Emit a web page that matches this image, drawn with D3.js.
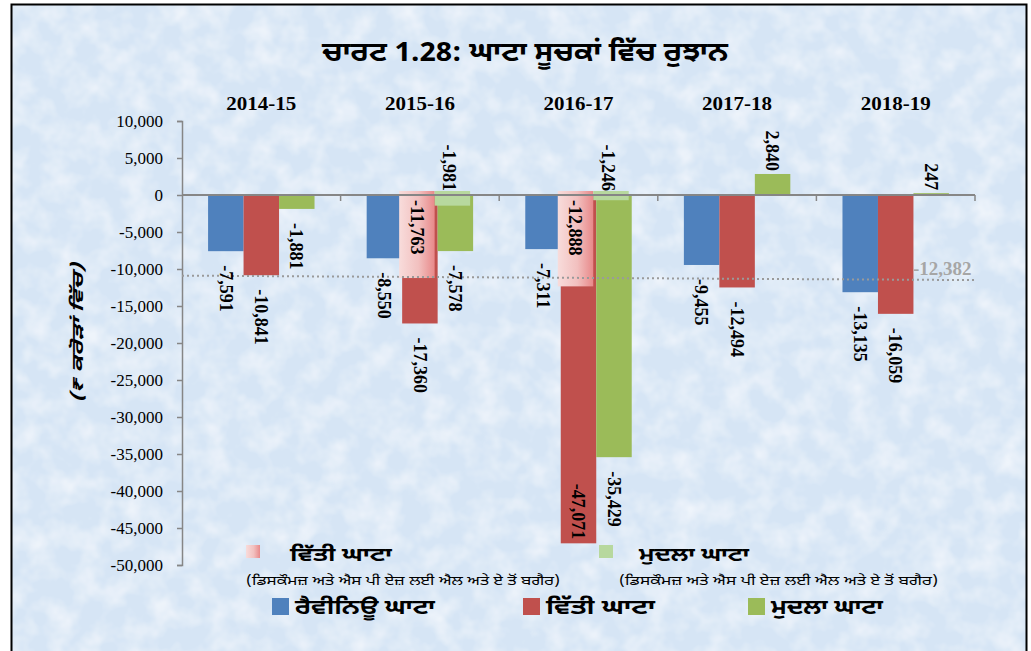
<!DOCTYPE html>
<html>
<head>
<meta charset="utf-8">
<script src="https://cdnjs.cloudflare.com/ajax/libs/d3/7.8.5/d3.min.js"></script>
<style>
  body { margin: 0; background: #fff; }
  .gur { font-family: "Noto Sans Gurmukhi", "Lohit Gurmukhi", "Raavi", sans-serif; }
  .num { font-family: "Liberation Serif", "Times New Roman", serif; }
</style>
</head>
<body>
<div id="container"></div>
<script>
var width = 1031,
    height = 651;

// data
var years = ["2014-15", "2015-16", "2016-17", "2017-18", "2018-19"];
var revenueDeficit = [-7591, -8550, -7311, -9455, -13135];
var fiscalDeficit = [-10841, -17360, -47071, -12494, -16059];
var primaryDeficit = [-1881, -7578, -35429, 2840, 247];
// without discoms & SPV L&A (only two years shown)
var fiscalExcl = [null, -11763, -12888, null, null];
var primaryExcl = [null, -1981, -1246, null, null];
var trendEnds = [-10900, -11500];
var trendLabel = "-12,382";
var yTicks = [10000, 5000, 0, -5000, -10000, -15000, -20000, -25000, -30000, -35000, -40000, -45000, -50000];

var colors = { rev: "#4f81bd", fis: "#c0504d", pri: "#9bbb59", priExcl: "#b7d89e" };

var locale = d3.formatLocale({ decimal: ".", thousands: ",", grouping: [3], currency: ["", ""], minus: "-" });
var fmt = locale.format(",");

var svg = d3.select("#container")
    .append("svg")
    .attr("width", width)
    .attr("height", height);

var defs = svg.append("defs");

// mottled background
var filt = defs.append("filter").attr("id", "paper")
    .attr("x", 0).attr("y", 0).attr("width", "100%").attr("height", "100%");
filt.append("feTurbulence").attr("type", "fractalNoise")
    .attr("baseFrequency", 0.04).attr("numOctaves", 3).attr("seed", 7).attr("result", "noise");
filt.append("feColorMatrix").attr("in", "noise").attr("type", "matrix")
    .attr("values", "0 0 0 0 1  0 0 0 0 1  0 0 0 0 1  1.1 0 0 0 -0.42")
    .attr("result", "spots");
filt.append("feComposite").attr("in", "spots").attr("in2", "SourceGraphic").attr("operator", "over");

var pinkGrad = defs.append("linearGradient").attr("id", "pink")
    .attr("x1", "0%").attr("x2", "100%").attr("y1", "0%").attr("y2", "0%");
pinkGrad.append("stop").attr("offset", "0%").attr("stop-color", "#f8dcdb");
pinkGrad.append("stop").attr("offset", "55%").attr("stop-color", "#f2c0bf");
pinkGrad.append("stop").attr("offset", "100%").attr("stop-color", "#e8898a");

svg.append("rect")
    .attr("x", 11).attr("y", 4)
    .attr("width", 1016).attr("height", 660)
    .attr("fill", "#d6e5f5")
    .attr("filter", "url(#paper)");

svg.append("rect")
    .attr("x", 11.5).attr("y", 4.5)
    .attr("width", 1015).attr("height", 660)
    .attr("fill", "none")
    .attr("stroke", "#000")
    .attr("stroke-width", 2);

var margin = { left: 182, right: 975, top: 121, bottom: 565 };

var x = d3.scaleBand().domain(years).range([margin.left, margin.right]).paddingInner(0).paddingOuter(0);
var y = d3.scaleLinear().domain([10000, -50000]).range([margin.top, margin.bottom]);
var inner = d3.scaleBand().domain(["rev", "fis", "pri"]).range([0, x.bandwidth()]).paddingOuter(0.735).paddingInner(0);

// title
svg.append("text")
    .attr("class", "gur")
    .attr("x", 525).attr("y", 61)
    .attr("text-anchor", "middle")
    .attr("font-size", 27).attr("font-weight", "bold")
    .attr("textLength", 406).attr("lengthAdjust", "spacingAndGlyphs")
    .text("ਚਾਰਟ 1.28: ਘਾਟਾ ਸੂਚਕਾਂ ਵਿੱਚ ਰੁਝਾਨ");

// category headers
svg.selectAll(".yr").data(years).enter().append("text")
    .attr("class", "num")
    .attr("x", function (d) { return x(d) + x.bandwidth() / 2; })
    .attr("y", 110)
    .attr("text-anchor", "middle")
    .attr("font-size", 19).attr("font-weight", "bold")
    .attr("textLength", 70).attr("lengthAdjust", "spacingAndGlyphs")
    .text(function (d) { return d; });

// y axis
var yAxis = svg.append("g")
    .attr("transform", "translate(" + margin.left + ",0)")
    .call(d3.axisLeft(y).tickValues(yTicks).tickSize(5).tickPadding(14).tickFormat(fmt));
yAxis.select(".domain").attr("stroke", "#868686").attr("stroke-width", 1.5);
yAxis.selectAll(".tick line").attr("stroke", "#868686").attr("stroke-width", 1.5);
yAxis.selectAll(".tick text").attr("class", "num").attr("font-size", 17).attr("fill", "#000");

svg.append("text")
    .attr("class", "gur")
    .attr("transform", "translate(83,333) rotate(-90)")
    .attr("text-anchor", "middle")
    .attr("font-size", 16).attr("font-weight", "bold").attr("font-style", "italic")
    .attr("textLength", 140).attr("lengthAdjust", "spacingAndGlyphs")
    .text("(₹ ਕਰੋੜਾਂ ਵਿੱਚ)");

// bars
var series = [
    { key: "rev", values: revenueDeficit, color: colors.rev },
    { key: "fis", values: fiscalDeficit, color: colors.fis },
    { key: "pri", values: primaryDeficit, color: colors.pri }
];

var barsG = svg.append("g");
series.forEach(function (s) {
    barsG.selectAll(".bar-" + s.key)
        .data(s.values)
        .enter().append("rect")
        .attr("x", function (d, i) { return x(years[i]) + inner(s.key); })
        .attr("y", function (d) { return y(Math.max(0, d)); })
        .attr("width", inner.bandwidth())
        .attr("height", function (d) { return Math.abs(y(d) - y(0)); })
        .attr("fill", s.color);
});

// overlay bars (excluding discoms & SPV) drawn slightly offset
var overlay = [
    { key: "fis", values: fiscalExcl, fill: "url(#pink)" },
    { key: "pri", values: primaryExcl, fill: colors.priExcl }
];
overlay.forEach(function (s) {
    barsG.selectAll(".ov-" + s.key)
        .data(s.values.map(function (v, i) { return { v: v, i: i }; }).filter(function (d) { return d.v !== null; }))
        .enter().append("rect")
        .attr("x", function (d) { return x(years[d.i]) + inner(s.key) - 3; })
        .attr("y", function (d) { return y(0) - 4; })
        .attr("width", inner.bandwidth())
        .attr("height", function (d) { return Math.abs(y(d.v) - y(0)); })
        .attr("fill", s.fill);
});

// zero line
svg.append("line")
    .attr("x1", margin.left).attr("x2", margin.right)
    .attr("y1", y(0)).attr("y2", y(0))
    .attr("stroke", "#868686").attr("stroke-width", 2);
svg.selectAll(".xtick").data(years).enter().append("line")
    .attr("x1", function (d) { return x(d) + x.bandwidth(); })
    .attr("x2", function (d) { return x(d) + x.bandwidth(); })
    .attr("y1", y(0)).attr("y2", y(0) + 6)
    .attr("stroke", "#868686").attr("stroke-width", 1.5);

// trend line
svg.append("line")
    .attr("x1", margin.left).attr("x2", margin.right)
    .attr("y1", y(trendEnds[0])).attr("y2", y(trendEnds[1]))
    .attr("stroke", "#9a9a9a").attr("stroke-width", 2)
    .attr("stroke-dasharray", "2,3");
svg.append("text")
    .attr("class", "num")
    .attr("x", 913).attr("y", y(trendEnds[1]) - 5)
    .attr("font-size", 19).attr("font-weight", "bold").attr("fill", "#a6a6a6")
    .text(trendLabel);

// data labels (rotated)
function addLabel(cx, yPos, anchor, txt) {
    svg.append("text")
        .attr("class", "num")
        .attr("transform", "translate(" + cx + "," + yPos + ") rotate(90)")
        .attr("text-anchor", anchor)
        .attr("dy", "0.35em")
        .attr("font-size", 18).attr("font-weight", "bold")
        .text(txt);
}

series.forEach(function (s) {
    s.values.forEach(function (v, i) {
        var cx = x(years[i]) + inner(s.key) + inner.bandwidth() / 2;
        if (v < 0) {
            if (y(v) + 14 + 60 > margin.bottom) addLabel(cx, y(v) - 4, "end", fmt(v));
            else addLabel(cx, y(v) + 14, "start", fmt(v));
        }
        else addLabel(cx, y(v) - 3, "end", fmt(v));
    });
});
fiscalExcl.forEach(function (v, i) {
    if (v === null) return;
    var cx = x(years[i]) + inner("fis") + inner.bandwidth() / 2 - 3;
    addLabel(cx, y(0) + 5, "start", fmt(v));
});
primaryExcl.forEach(function (v, i) {
    if (v === null) return;
    var cx = x(years[i]) + inner("pri") + inner.bandwidth() / 2 - 6;
    addLabel(cx, y(0) - 4, "end", fmt(v));
});

// legend for overlay series
var leg1 = svg.append("g");
leg1.append("rect").attr("x", 246).attr("y", 545).attr("width", 14).attr("height", 13).attr("fill", "url(#pink)");
leg1.append("text").attr("class", "gur").attr("x", 290).attr("y", 561)
    .attr("font-size", 19).attr("font-weight", "bold")
    .attr("textLength", 102).attr("lengthAdjust", "spacingAndGlyphs").text("ਵਿੱਤੀ ਘਾਟਾ");
leg1.append("rect").attr("x", 599).attr("y", 545).attr("width", 14).attr("height", 13).attr("fill", colors.priExcl);
leg1.append("text").attr("class", "gur").attr("x", 639).attr("y", 561)
    .attr("font-size", 19).attr("font-weight", "bold")
    .attr("textLength", 110).attr("lengthAdjust", "spacingAndGlyphs").text("ਮੁਦਲਾ ਘਾਟਾ");
leg1.append("text").attr("class", "gur").attr("x", 246).attr("y", 585)
    .attr("font-size", 13)
    .attr("textLength", 314).attr("lengthAdjust", "spacingAndGlyphs")
    .text("(ਡਿਸਕੌਮਜ਼ ਅਤੇ ਐਸ ਪੀ ਏਜ਼ ਲਈ ਐਲ ਅਤੇ ਏ ਤੋਂ ਬਗੈਰ)");
leg1.append("text").attr("class", "gur").attr("x", 619).attr("y", 585)
    .attr("font-size", 13)
    .attr("textLength", 319).attr("lengthAdjust", "spacingAndGlyphs")
    .text("(ਡਿਸਕੌਮਜ਼ ਅਤੇ ਐਸ ਪੀ ਏਜ਼ ਲਈ ਐਲ ਅਤੇ  ਏ ਤੋਂ ਬਗੈਰ)");

// main legend
var legendItems = [
    { label: "ਰੈਵੀਨਿਊ ਘਾਟਾ", color: colors.rev, x: 272, w: 140 },
    { label: "ਵਿੱਤੀ ਘਾਟਾ", color: colors.fis, x: 523, w: 109 },
    { label: "ਮੁਦਲਾ ਘਾਟਾ", color: colors.pri, x: 748, w: 112 }
];
var leg2 = svg.selectAll(".leg2").data(legendItems).enter().append("g")
    .attr("transform", function (d) { return "translate(" + d.x + ",598)"; });
leg2.append("rect").attr("width", 17).attr("height", 17).attr("fill", function (d) { return d.color; });
leg2.append("text").attr("class", "gur").attr("x", 23).attr("y", 16)
    .attr("font-size", 21).attr("font-weight", "bold")
    .attr("textLength", function (d) { return d.w; }).attr("lengthAdjust", "spacingAndGlyphs")
    .text(function (d) { return d.label; });
</script>
</body>
</html>
